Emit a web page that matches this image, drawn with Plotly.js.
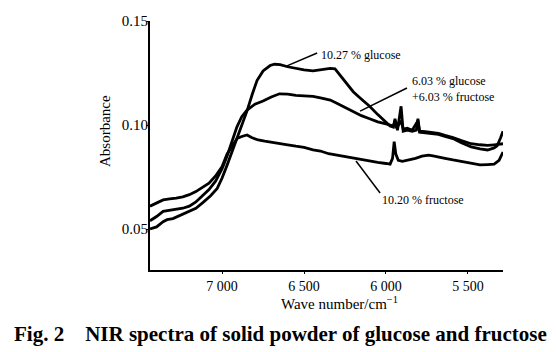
<!DOCTYPE html>
<html><head><meta charset="utf-8">
<script src="https://cdn.plot.ly/plotly-3.0.1.min.js"></script>
<style>html,body{margin:0;padding:0;background:#fff}#chart{width:557px;height:352px}</style>
</head><body><div id="chart"></div>
<script>
// Data
const glucoseWn = [7440,7400,7360,7336,7300,7260,7214,7160,7116,7070,7030,7000,6970,6940,6909,6880,6848,6815,6787,6750,6707,6680,6646,6600,6550,6500,6445,6400,6340,6311,6280,6240,6200,6158,6100,6050,6000,5975,5955,5945,5930,5908,5895,5870,5840,5815,5805,5795,5760,5713,5680,5640,5591,5540,5480,5426,5380,5340,5322,5300,5286];
const glucoseAbs = [0.0500,0.0510,0.0535,0.0545,0.0550,0.0565,0.0580,0.0600,0.0628,0.0660,0.0695,0.0745,0.0806,0.0870,0.0937,0.1000,0.1068,0.1150,0.1214,0.1260,0.1286,0.1292,0.1290,0.1280,0.1272,0.1265,0.1260,0.1265,0.1272,0.1270,0.1240,0.1200,0.1160,0.1130,0.1090,0.1050,0.1015,0.0995,0.0990,0.1030,0.0975,0.1090,0.0970,0.0975,0.0970,0.0975,0.1030,0.0965,0.0962,0.0960,0.0955,0.0945,0.0935,0.0915,0.0895,0.0885,0.0880,0.0890,0.0900,0.0940,0.0970];

const mixWn = [7440,7400,7360,7320,7280,7240,7200,7160,7120,7080,7040,7000,6970,6940,6910,6880,6850,6800,6750,6700,6650,6600,6550,6500,6445,6400,6340,6300,6250,6200,6150,6100,6050,6000,5975,5955,5945,5935,5908,5895,5870,5840,5805,5795,5760,5713,5680,5640,5591,5540,5480,5426,5380,5340,5310,5286];
const mixAbs = [0.0540,0.0560,0.0585,0.0590,0.0592,0.0600,0.0610,0.0630,0.0660,0.0690,0.0730,0.0790,0.0850,0.0920,0.0990,0.1040,0.1070,0.1100,0.1115,0.1135,0.1150,0.1148,0.1142,0.1140,0.1138,0.1130,0.1120,0.1105,0.1085,0.1065,0.1045,0.1030,0.1015,0.1005,0.1000,0.0995,0.1020,0.0985,0.1020,0.0980,0.0985,0.0975,0.1020,0.0970,0.0968,0.0962,0.0960,0.0950,0.0940,0.0925,0.0910,0.0905,0.0902,0.0905,0.0908,0.0910];

const fructoseWn = [7440,7400,7360,7320,7280,7240,7200,7160,7116,7080,7040,7000,6970,6940,6909,6880,6848,6820,6780,6740,6700,6650,6600,6550,6500,6445,6400,6350,6300,6250,6200,6150,6100,6050,6000,5975,5960,5950,5940,5925,5900,5860,5820,5780,5740,5713,5680,5640,5591,5540,5480,5426,5380,5340,5310,5286];
const fructoseAbs = [0.0610,0.0625,0.0640,0.0645,0.0648,0.0655,0.0665,0.0680,0.0700,0.0720,0.0755,0.0800,0.0860,0.0900,0.0935,0.0945,0.0952,0.0940,0.0928,0.0922,0.0918,0.0912,0.0905,0.0898,0.0892,0.0880,0.0875,0.0862,0.0855,0.0848,0.0840,0.0832,0.0826,0.0820,0.0815,0.0812,0.0840,0.0920,0.0860,0.0830,0.0825,0.0832,0.0840,0.0850,0.0855,0.0852,0.0845,0.0840,0.0832,0.0825,0.0815,0.0808,0.0810,0.0812,0.0830,0.0870];

const xTickVals = [7000,6500,6000,5500];
const xTickText = ["7 000","6 500","6 000","5 500"];
const yTickVals = [0.05,0.10,0.15];
const labels = ["10.27 % glucose","6.03 % glucose<br>+6.03 % fructose","10.20 % fructose"];
const xTitle = "Wave number/cm<sup>−1</sup>";
const yTitle = "Absorbance";
const caption = "<b>Fig. 2    NIR spectra of solid powder of glucose and fructose</b>";

const serif = "Liberation Serif, Times New Roman, serif";
const line = {color:"#000", width:2.8};
const traces = [
  {x:glucoseWn, y:glucoseAbs, mode:"lines", line:line, name:labels[0]},
  {x:mixWn, y:mixAbs, mode:"lines", line:line, name:labels[1]},
  {x:fructoseWn, y:fructoseAbs, mode:"lines", line:line, name:labels[2]}
];

const lead = (x0,y0,x1,y1)=>({type:"line",xref:"x",yref:"y",x0:x0,y0:y0,x1:x1,y1:y1,line:{color:"#000",width:1.5}});

// plot area in pixels: x 150..503, y 21..270
const W = 557-150-54, H = 352-21-82;
const px = v => (v-150)/W;
const py = v => (270-v)/H;

const layout = {
  width:557, height:352,
  margin:{l:150, r:54, t:21, b:82},
  paper_bgcolor:"#fff", plot_bgcolor:"#fff",
  showlegend:false,
  font:{family:serif, color:"#000", size:14},
  xaxis:{
    range:[7440,5286], showgrid:false, zeroline:false,
    showline:true, linecolor:"#000", linewidth:2,
    ticks:"outside", ticklen:2, tickwidth:1, tickcolor:"#000",
    tickvals:xTickVals, ticktext:xTickText,
    tickfont:{family:serif, size:14}
  },
  yaxis:{
    range:[0.0303,0.15], showgrid:false, zeroline:false,
    showline:true, linecolor:"#000", linewidth:2,
    ticks:"outside", ticklen:2, tickwidth:1, tickcolor:"#000",
    tickvals:yTickVals, tickformat:".2f", ticklabelstandoff:-5,
    tickfont:{family:serif, size:15}
  },
  shapes:[
    lead(6604,0.1284,6420,0.1346),
    lead(6158,0.1067,5872,0.1178),
    lead(6183,0.0827,6036,0.0673)
  ],
  annotations:[
    {x:6408, y:0.1337, xref:"x", yref:"y", text:labels[0], showarrow:false, xanchor:"left", yanchor:"middle", font:{family:serif,size:12}},
    {x:5853, y:0.1175, xref:"x", yref:"y", text:labels[1], showarrow:false, xanchor:"left", yanchor:"middle", align:"left", font:{family:serif,size:12}},
    {x:6036, y:0.0640, xref:"x", yref:"y", text:labels[2], showarrow:false, xanchor:"left", yanchor:"middle", font:{family:serif,size:12}},
    {x:px(339), y:py(303), xref:"paper", yref:"paper", text:xTitle, showarrow:false, xanchor:"center", yanchor:"middle", font:{family:serif,size:15}},
    {x:px(105), y:py(131), xref:"paper", yref:"paper", text:yTitle, showarrow:false, textangle:-90, xanchor:"center", yanchor:"middle", font:{family:serif,size:15}},
    {x:px(280), y:py(334), xref:"paper", yref:"paper", xanchor:"center", yanchor:"middle", showarrow:false,
     text:caption, font:{family:serif, size:21}}
  ]
};

Plotly.newPlot("chart", traces, layout, {displayModeBar:false, staticPlot:true});
</script></body></html>
